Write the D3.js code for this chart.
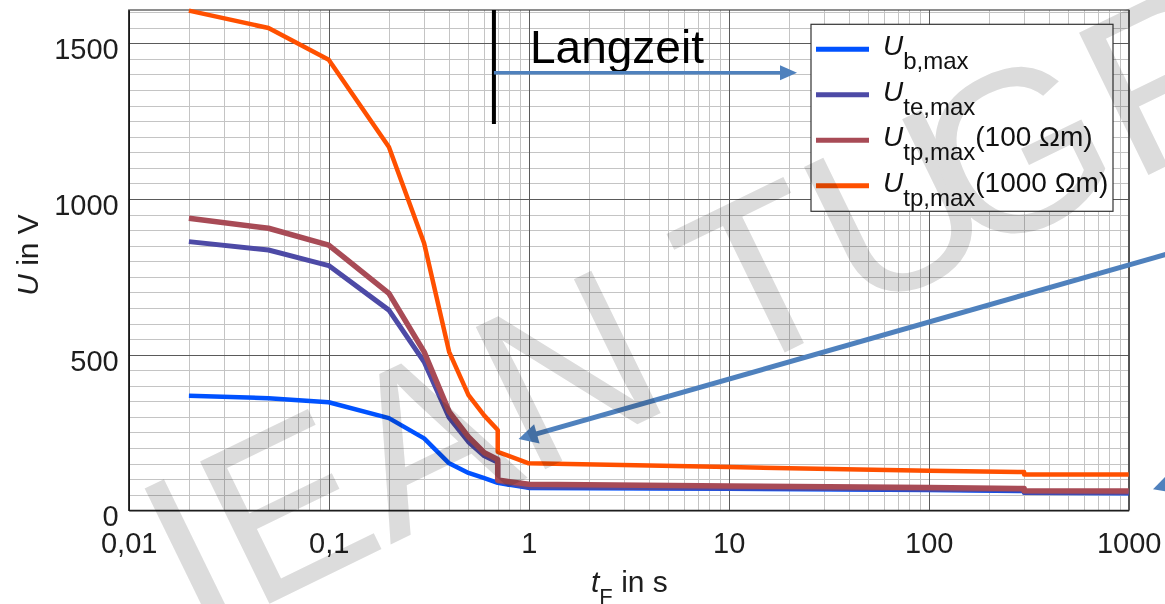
<!DOCTYPE html>
<html>
<head>
<meta charset="utf-8">
<script src="https://cdn.jsdelivr.net/npm/d3@7"></script>
<style>
  body { margin: 0; background: #fff; }
  svg { display: block; font-family: "Liberation Sans", Arial, sans-serif; }
</style>
</head>
<body>
<svg width="1165" height="604"></svg>
<script>
// fault duration in s (0.7 and 300 appear twice: the curves step there)
var tF = [0.02, 0.05, 0.1, 0.2, 0.3, 0.4, 0.5, 0.6, 0.7, 0.7, 1, 10, 100, 300, 300, 1000];

// permissible voltages in V
var uB       = [368, 360, 347, 296, 231, 151, 120, 103, 88, 88, 72, 69, 65, 62, 56, 55];
var uTe      = [863, 836, 786, 643, 477, 298, 220, 175, 154, 94, 75, 72, 68, 65, 58, 57];
var uTp100   = [938, 906, 852, 697, 509, 317, 236, 185, 163, 97, 84, 78, 73, 70, 63, 62];
var uTp1000  = [1605, 1549, 1447, 1167, 858, 509, 370, 304, 258, 188, 151, 139, 127, 123, 115, 115];

var xTicks = [0.01, 0.1, 1, 10, 100, 1000];
var yTicks = [0, 500, 1000, 1500];

var seriesNames = ["b,max", "te,max", "tp,max", "tp,max"];
var seriesSuffix = ["", "", "(100 \u03A9m)", "(1000 \u03A9m)"];
var seriesColors = ["#0052ff", "#4d4aa6", "#a84b56", "#ff5000"];

var langzeitT = 0.67;

var svg = d3.select("svg");
var pl = 128.7, pr = 1128.7, pt = 10, pb = 510.3;

var x = d3.scaleLog().domain([0.01, 1000]).range([pl, pr]);
var y = d3.scaleLinear().domain([0, 1607]).range([pb, pt]);

/// grid
var xMinor = x.ticks().filter(function(d) { return xTicks.indexOf(d) < 0; });
var yMinor = d3.range(50, 1607, 50).filter(function(d) { return d % 500 != 0; });

var grid = svg.append("g");
grid.selectAll(".vmin").data(xMinor).enter().append("line")
  .attr("x1", function(d) { return Math.round(x(d)) + 0.5; })
  .attr("x2", function(d) { return Math.round(x(d)) + 0.5; })
  .attr("y1", pt).attr("y2", pb)
  .attr("stroke", "#c4c4c4").attr("stroke-width", 1);
grid.selectAll(".hmin").data(yMinor).enter().append("line")
  .attr("y1", function(d) { return Math.round(y(d)) + 0.5; })
  .attr("y2", function(d) { return Math.round(y(d)) + 0.5; })
  .attr("x1", pl).attr("x2", pr)
  .attr("stroke", "#c4c4c4").attr("stroke-width", 1);
grid.selectAll(".vmaj").data(xTicks).enter().append("line")
  .attr("x1", function(d) { return Math.round(x(d)) + 0.5; })
  .attr("x2", function(d) { return Math.round(x(d)) + 0.5; })
  .attr("y1", pt).attr("y2", pb)
  .attr("stroke", "#5a5a5a").attr("stroke-width", 1);
grid.selectAll(".hmaj").data(yTicks).enter().append("line")
  .attr("y1", function(d) { return Math.round(y(d)) + 0.5; })
  .attr("y2", function(d) { return Math.round(y(d)) + 0.5; })
  .attr("x1", pl).attr("x2", pr)
  .attr("stroke", "#5a5a5a").attr("stroke-width", 1);

svg.append("rect")
  .attr("x", pl).attr("y", pt)
  .attr("width", pr - pl).attr("height", pb - pt)
  .attr("fill", "none").attr("stroke", "#444").attr("stroke-width", 1.2);

/// axes
var fmt = function(d) { return String(d).replace(".", ","); };
var xAxis = svg.append("g")
  .attr("transform", "translate(0," + pb + ")")
  .call(d3.axisBottom(x).tickValues(xTicks).tickFormat(fmt).tickSize(0).tickPadding(22));
var yAxis = svg.append("g")
  .attr("transform", "translate(" + pl + ",0)")
  .call(d3.axisLeft(y).tickValues(yTicks).tickFormat(d3.format("d")).tickSize(0).tickPadding(10));
[xAxis, yAxis].forEach(function(a) {
  a.select(".domain").attr("stroke", "#111").attr("stroke-width", 1.3);
  a.selectAll("text").attr("font-size", 29).attr("fill", "#1e1e1e")
   .attr("font-family", "Liberation Sans, Arial, sans-serif");
});
yAxis.selectAll("text").attr("dy", "0.53em");

// axis titles
var yt = svg.append("text")
  .attr("transform", "translate(38,255) rotate(-90)")
  .attr("text-anchor", "middle").attr("font-size", 30).attr("fill", "#1e1e1e");
yt.append("tspan").attr("font-style", "italic").text("U");
yt.append("tspan").text(" in V");

var xt = svg.append("text")
  .attr("x", 591).attr("y", 592)
  .attr("font-size", 30).attr("fill", "#1e1e1e");
xt.append("tspan").attr("font-style", "italic").text("t");
xt.append("tspan").attr("font-size", 22).attr("dy", 12).text("F");
xt.append("tspan").attr("dy", -12).text(" in s");

/// curves
var allSeries = [uB, uTe, uTp100, uTp1000];
var line = d3.line()
  .x(function(d) { return x(d[0]); })
  .y(function(d) { return y(d[1]); });
var widths = [4.5, 5, 5.5, 4.5];
allSeries.forEach(function(vals, i) {
  svg.append("path")
    .datum(d3.zip(tF, vals))
    .attr("d", line)
    .attr("fill", "none")
    .attr("stroke", seriesColors[i])
    .attr("stroke-width", widths[i])
    .attr("stroke-linejoin", "round");
});

/// Langzeit marker
var arrowColor = "#4f81bd";
function arrowHead(tip, dir, len, half) {
  var n = Math.hypot(dir[0], dir[1]);
  var ux = dir[0] / n, uy = dir[1] / n;
  var bx = tip[0] - ux * len, by = tip[1] - uy * len;
  return [[tip[0], tip[1]], [bx - uy * half, by + ux * half], [bx + uy * half, by - ux * half]]
    .map(function(p) { return p.join(","); }).join(" ");
}

svg.append("line")
  .attr("x1", x(langzeitT)).attr("x2", x(langzeitT))
  .attr("y1", pt).attr("y2", 124)
  .attr("stroke", "#000").attr("stroke-width", 4);
svg.append("text")
  .attr("x", 530).attr("y", 62.7)
  .attr("font-size", 46).attr("fill", "#000").text("Langzeit");
svg.append("line")
  .attr("x1", x(langzeitT)).attr("x2", 782)
  .attr("y1", 72.7).attr("y2", 72.7)
  .attr("stroke", arrowColor).attr("stroke-width", 3.5);
svg.append("polygon")
  .attr("points", arrowHead([797, 72.7], [1, 0], 17, 7.5))
  .attr("fill", arrowColor);

// long arrow pointing at the step
var tipA = [x(0.89), y(229)], tailA = [x(1700), y(830)];
var dA = [tipA[0] - tailA[0], tipA[1] - tailA[1]];
var nA = Math.hypot(dA[0], dA[1]);
svg.append("line")
  .attr("x1", tailA[0]).attr("y1", tailA[1])
  .attr("x2", tipA[0] - dA[0] / nA * 15).attr("y2", tipA[1] - dA[1] / nA * 15)
  .attr("stroke", arrowColor).attr("stroke-width", 5);
svg.append("polygon")
  .attr("points", arrowHead(tipA, dA, 19, 10))
  .attr("fill", arrowColor);

// third arrow, only the head is visible
svg.append("polygon")
  .attr("points", arrowHead([x(1323), y(68)], [-0.96, 0.3], 19, 10))
  .attr("fill", arrowColor);

/// legend
var lg = svg.append("g");
lg.append("rect")
  .attr("x", 811).attr("y", 24.3).attr("width", 302).attr("height", 187)
  .attr("fill", "#fff").attr("stroke", "#333").attr("stroke-width", 1.2);
seriesNames.forEach(function(name, i) {
  var ly = 49.3 + i * 45.5;
  lg.append("line")
    .attr("x1", 816).attr("x2", 869).attr("y1", ly).attr("y2", ly)
    .attr("stroke", seriesColors[i]).attr("stroke-width", 5);
  var t = lg.append("text")
    .attr("x", 883).attr("y", ly + 5.8)
    .attr("font-size", 28).attr("fill", "#111");
  t.append("tspan").attr("font-style", "italic").text("U");
  t.append("tspan").attr("font-size", 24).attr("dy", 14).text(name);
  if (seriesSuffix[i]) t.append("tspan").attr("dy", -14).text(seriesSuffix[i]);
});

/// watermark
var wm = svg.append("text")
  .attr("transform", "translate(195,640) rotate(-26)")
  .attr("font-size", 230)
  .attr("fill", "#dcdcdc")
  .style("mix-blend-mode", "multiply");
wm.append("tspan").text("IEAN TU");
wm.append("tspan").attr("dx", -40).text("GRAZ");
</script>
</body>
</html>
